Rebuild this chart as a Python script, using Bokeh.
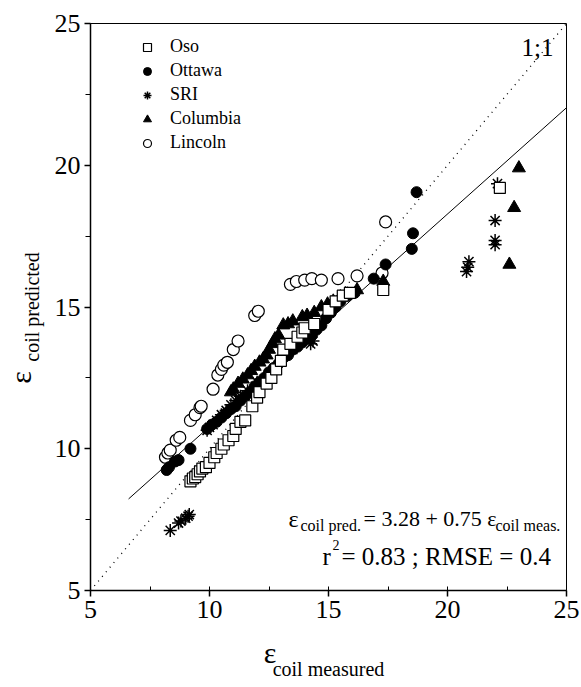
import numpy as np
from bokeh.plotting import figure
from bokeh.models import (Label, SingleIntervalTicker, FixedTicker, Legend, LegendItem,
                          LinearAxis)
from bokeh.embed import file_html
from bokeh.resources import INLINE

# ---------------- data ----------------
oso_x = [9.2, 9.3, 9.4, 9.5, 9.6, 9.7, 9.85, 10.0, 10.2, 10.3, 10.5, 10.6, 10.8, 11.0,
         11.1, 11.3, 11.5, 11.8, 12.0, 12.1, 12.4, 12.6, 12.8, 13.0, 13.1, 13.4, 13.7,
         13.9, 14.0, 14.4, 15.0, 15.3, 15.6, 15.9, 17.3, 22.2]
oso_y = [8.85, 8.95, 9.0, 9.1, 9.2, 9.3, 9.35, 9.5, 9.7, 9.85, 10.0, 10.15, 10.3, 10.45,
         10.7, 10.95, 11.0, 11.5, 11.8, 12.0, 12.3, 12.5, 12.8, 13.1, 13.5, 13.7, 13.95,
         14.1, 14.25, 14.4, 14.9, 15.2, 15.4, 15.5, 15.6, 19.2]

ottawa_x = [8.2, 8.3, 8.55, 8.7, 9.2, 9.9, 10.1, 10.3, 10.5, 10.7, 10.9, 11.1, 11.3, 11.5,
            11.7, 11.9, 12.1, 12.3, 12.5, 12.7, 12.9, 13.1, 13.3, 13.5, 13.7, 13.9, 14.1,
            14.3, 14.5, 14.7, 14.9, 15.1, 15.3, 15.5, 15.8, 16.1, 16.9, 17.4, 18.5, 18.55, 18.7]
ottawa_y = [9.25, 9.35, 9.55, 9.6, 10.0, 10.7, 10.85, 10.95, 11.1, 11.25, 11.4, 11.5, 11.7, 11.85,
            12.0, 12.2, 12.35, 12.5, 12.7, 12.85, 13.0, 13.2, 13.3, 13.5, 13.6, 13.75, 13.9,
            14.0, 14.2, 14.35, 14.6, 14.8, 15.0, 15.2, 15.4, 15.5, 16.0, 16.5, 17.05, 17.6, 19.05]

sri_x = [8.35, 8.7, 8.8, 9.0, 9.1, 9.15,
         9.9, 10.0, 10.15, 10.3, 10.5, 10.7, 10.9, 11.1, 11.3, 11.6, 12.0, 13.1, 13.5, 14.25, 14.35,
         20.8, 20.85, 20.9, 22.0, 22.0, 22.0, 22.1]
sri_y = [7.12, 7.38, 7.45, 7.55, 7.62, 7.68,
         10.65, 10.75, 10.85, 11.0, 11.2, 11.35, 11.55, 11.7, 11.85, 12.05, 12.35, 13.3, 13.5, 13.7, 13.8,
         16.25, 16.4, 16.6, 17.2, 17.35, 18.05, 19.35]

columbia_x = [10.9, 11.0, 11.2, 11.4, 11.6, 11.75, 11.9, 12.1, 12.25, 12.4, 12.5, 12.65, 12.75,
              12.9, 13.1, 13.3, 13.5, 13.9, 14.1, 14.4, 14.7, 14.96, 15.2, 15.5, 15.8, 16.2,
              17.3, 22.6, 22.8, 23.0]
columbia_y = [12.0, 12.1, 12.3, 12.45, 12.6, 12.75, 12.9, 13.05, 13.16, 13.3, 13.5, 13.7, 13.87,
              14.0, 14.36, 14.4, 14.5, 14.65, 14.7, 14.8, 15.0, 15.1, 15.2, 15.35, 15.45, 15.6,
              15.9, 16.5, 18.5, 19.9]

lincoln_x = [8.15, 8.25, 8.35, 8.6, 8.75, 9.2, 9.4, 9.6, 9.65, 10.15, 10.35, 10.5, 10.6, 10.75,
             11.0, 11.2, 11.9, 12.05, 13.4, 13.65, 14.0, 14.3, 14.7, 15.4, 16.2, 17.25, 17.4]
lincoln_y = [9.7, 9.85, 9.95, 10.3, 10.4, 11.0, 11.2, 11.45, 11.5, 12.1, 12.6, 12.8, 12.95, 13.05,
             13.5, 13.8, 14.7, 14.85, 15.8, 15.9, 15.95, 16.0, 15.95, 16.0, 16.1, 16.2, 18.0]

fit_intercept = 3.28
fit_slope = 0.75
fit_x = [6.6, 25.0]
one_to_one = [5.0, 25.0]

# ---------------- layout geometry (page pixels) ----------------
SERIF = "Liberation Serif"
W, H = 581, 687
L, R, T, B = 90, 566, 23, 590   # frame edges in page pixels

p = figure(width=W, height=H, x_range=(5, 25), y_range=(5, 25),
           output_backend="svg", toolbar_location=None,
           min_border_left=L, min_border_right=W - R,
           min_border_top=T, min_border_bottom=H - B)
p.grid.visible = False
p.outline_line_color = "black"
p.outline_line_width = 1
p.background_fill_color = "white"
p.border_fill_color = "white"

for ax in (p.xaxis[0], p.yaxis[0]):
    ax.ticker = SingleIntervalTicker(interval=5, num_minor_ticks=2)
    ax.major_label_text_font = SERIF
    ax.major_label_text_font_size = "26px"
    ax.major_label_text_color = "black"
    ax.axis_line_color = "black"
    ax.axis_line_width = 1.5
    ax.major_tick_line_color = "black"
    ax.minor_tick_line_color = "black"
    ax.major_tick_line_width = 1.5
    ax.major_tick_out = 6
    ax.major_tick_in = 0
    ax.major_label_standoff = 4
    ax.axis_label_text_font = SERIF
    ax.axis_label_text_font_style = "normal"
    ax.axis_label_text_color = "black"

p.xaxis.minor_tick_in = 4
p.xaxis.minor_tick_out = 0
p.yaxis.minor_tick_in = 0
p.yaxis.minor_tick_out = 5


def bare_axis(label, size, standoff):
    return LinearAxis(ticker=FixedTicker(ticks=[]), axis_label=label,
                      axis_label_text_font=SERIF, axis_label_text_font_size=size,
                      axis_label_text_font_style="normal", axis_label_text_color="black",
                      axis_label_standoff=standoff,
                      axis_line_color=None, major_tick_line_color=None,
                      minor_tick_line_color=None, major_tick_out=0, major_tick_in=0,
                      minor_tick_out=0, minor_tick_in=0, major_label_standoff=0,
                      major_label_text_font_size="0px")


# y-axis title: "coil predicted" on the tick axis, big epsilon on a bare axis
yax = p.yaxis[0]
yax.axis_label = "coil predicted"
yax.axis_label_text_font_size = "20px"
yax.axis_label_standoff = 9
p.add_layout(bare_axis("\u03b5" + "\u2003" * 4 + "\u2002" + "\u2009", "30px", -19), "left")

# x-axis title: big epsilon on the tick axis, "coil measured" on a bare axis below
xax = p.xaxis[0]
xax.axis_label = "\u03b5" + "\u2003" * 3 + "\u2002" + "\u2009" * 2
xax.axis_label_text_font_size = "30px"
xax.axis_label_standoff = 15
p.add_layout(bare_axis("coil measured", "20px", -14), "below")

# reference lines
p.line(one_to_one, one_to_one, line_color="black", line_width=1.3, line_dash="1 5")
fit_y = [fit_intercept + fit_slope * v for v in fit_x]
p.line(fit_x, fit_y, line_color="black", line_width=1)

r_lin = p.scatter(lincoln_x, lincoln_y, marker="circle", size=12, fill_color="white",
                  line_color="black", line_width=1.2)
r_col = p.scatter(columbia_x, columbia_y, marker="triangle", size=13, fill_color="black",
                  line_color="black")
r_sri = p.scatter(sri_x, sri_y, marker="asterisk", size=13, line_color="black", line_width=1.5)
r_ott = p.scatter(ottawa_x, ottawa_y, marker="circle", size=11, fill_color="black",
                  line_color="black")
r_oso = p.scatter(oso_x, oso_y, marker="square", size=11, fill_color="white",
                  line_color="black", line_width=1.2)

GW, GH, SP, N = 30, 20, 3, 5
legend_h = N * GH + (N - 1) * SP
first_center = 51     # page y of the first legend row
marker_cx = 147       # page x of the legend markers
legend = Legend(items=[
    LegendItem(label="Oso", renderers=[r_oso]),
    LegendItem(label="Ottawa", renderers=[r_ott]),
    LegendItem(label="SRI", renderers=[r_sri]),
    LegendItem(label="Columbia", renderers=[r_col]),
    LegendItem(label="Lincoln", renderers=[r_lin]),
], location=(marker_cx - GW // 2 - L, (B - T) - (first_center - GH // 2 - T) - legend_h))
legend.border_line_color = None
legend.background_fill_alpha = 0
legend.label_text_font = SERIF
legend.label_text_font_size = "18px"
legend.label_text_color = "black"
legend.glyph_width = GW
legend.glyph_height = GH
legend.label_height = GH
legend.spacing = SP
legend.padding = 0
legend.margin = 0
legend.label_standoff = 8
p.add_layout(legend)


def sx(px):
    return 5 + (px - L) * 20.0 / (R - L)


def sy(py):
    return 5 + (B - py) * 20.0 / (B - T)


def lab(x, y, text, size):
    p.add_layout(Label(x=sx(x), y=sy(y), text=text, text_font=SERIF,
                       text_font_size=size, text_color="black",
                       text_align="left", text_baseline="alphabetic"))


# 1:1 label
lab(521, 47, "1;1", "25px")

# regression equation
lab(288, 518, "\u03b5", "24px")
lab(300, 525, "coil pred.", "16px")
lab(363, 518, "= 3.28 + 0.75 \u03b5", "22px")
lab(495, 525, "coil meas.", "16px")
lab(322, 556, "r", "25px")
lab(332, 544, "2", "14px")
lab(341, 556, "= 0.83 ; RMSE = 0.4", "25px")

open("out.html", "w").write(file_html(p, INLINE))
